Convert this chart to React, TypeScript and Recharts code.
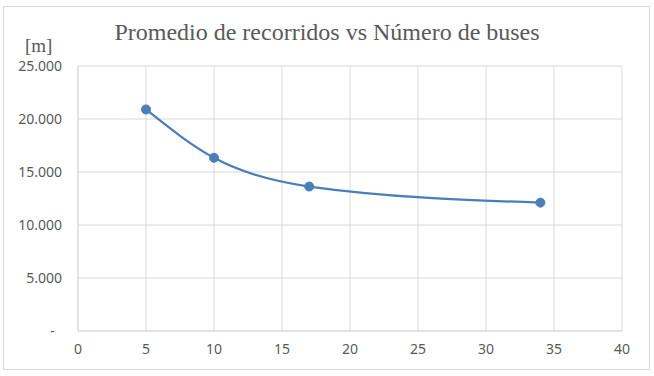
import React from "react";
import { LineChart, Line, XAxis, YAxis, CartesianGrid } from "recharts";

const buses = [5, 10, 17, 34];
const recorridos = [20900, 16340, 13630, 12110];
const xTicks = [0, 5, 10, 15, 20, 25, 30, 35, 40];
const yTicks = [0, 5000, 10000, 15000, 20000, 25000];
const title = "Promedio de recorridos vs Número de buses";
const unitLabel = "[m]";

const data = buses.map((b, i) => ({ x: b, y: recorridos[i] }));

const fmtY = (v: number) => {
  if (v === 0) return "-\u00A0\u00A0";
  const s = String(v);
  return s.slice(0, s.length - 3) + "." + s.slice(s.length - 3);
};

const tickStyle = { fill: "#595959", fontSize: 14, fontFamily: "'Noto Sans', sans-serif" };

export default function App() {
  return (
    <div style={{ position: "absolute", left: 0, top: 0, width: 654, height: 376, background: "#fff" }}>
      <div
        style={{
          position: "absolute",
          left: 3,
          top: 6,
          width: 645,
          height: 362,
          border: "1px solid #d9d9d9",
        }}
      />
      <div
        style={{
          position: "absolute",
          left: 0,
          width: 654,
          top: 17,
          textAlign: "center",
          fontFamily: "'Liberation Serif', serif",
          fontSize: 24,
          color: "#595959",
          lineHeight: "30px",
        }}
      >
        {title}
      </div>
      <div
        style={{
          position: "absolute",
          left: 25,
          top: 34,
          fontFamily: "'Liberation Serif', serif",
          fontSize: 19,
          color: "#595959",
          lineHeight: "24px",
        }}
      >
        {unitLabel}
      </div>
      <div style={{ position: "absolute", left: 0, top: 0 }}>
        <LineChart
          width={654}
          height={376}
          data={data}
          margin={{ top: 66, right: 32, bottom: 15, left: 18 }}
        >
          <CartesianGrid stroke="#d9d9d9" strokeWidth={1} />
          <XAxis
            type="number"
            dataKey="x"
            domain={[0, 40]}
            ticks={xTicks}
            interval={0}
            axisLine={{ stroke: "#d9d9d9" }}
            tickLine={false}
            tickMargin={7}
            height={30}
            tick={tickStyle}
          />
          <YAxis
            type="number"
            dataKey="y"
            domain={[0, 25000]}
            ticks={yTicks}
            interval={0}
            axisLine={{ stroke: "#d9d9d9" }}
            tickLine={false}
            tickMargin={10}
            width={60}
            tick={tickStyle}
            tickFormatter={fmtY}
          />
          <Line
            type="monotone"
            dataKey="y"
            stroke="#4a7ebb"
            strokeWidth={2.25}
            dot={{ r: 4.5, fill: "#4a7ebb", stroke: "#4a7ebb", strokeWidth: 1 }}
            isAnimationActive={false}
          />
        </LineChart>
      </div>
    </div>
  );
}
